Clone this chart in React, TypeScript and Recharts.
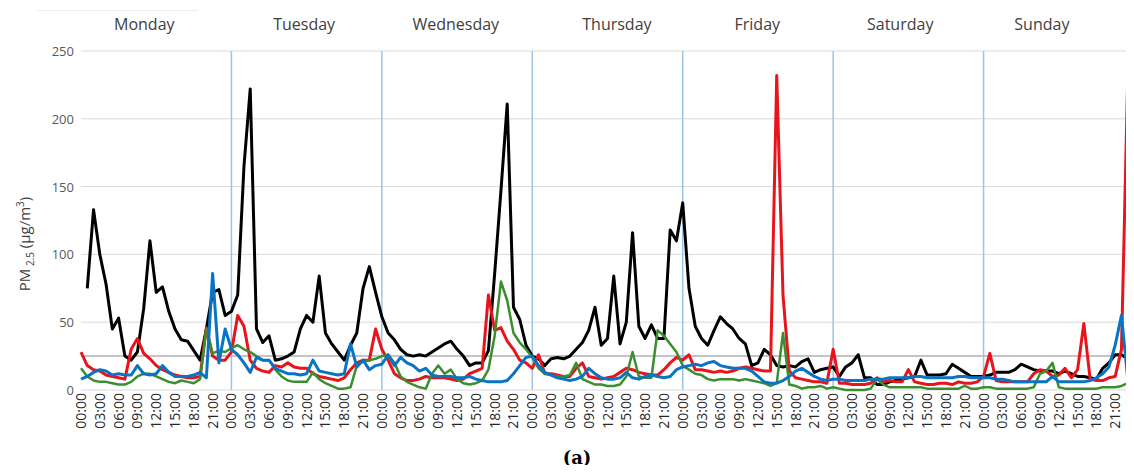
import React from "react";
import { LineChart, Line, XAxis, YAxis, CartesianGrid, ReferenceLine } from "recharts";

// hours since Monday 00:00, one reading per hour
const hours = Array.from({ length: 169 }, (_, i) => i);

const dayNames = ["Monday", "Tuesday", "Wednesday", "Thursday", "Friday", "Saturday", "Sunday"];
const dayLabelHours = [10.1, 35.6, 59.8, 85.5, 107.9, 130.7, 153.3];
const dayBoundaries = [24, 48, 72, 96, 120, 144];
const timeTicks = Array.from({ length: 57 }, (_, i) => i * 3);
const yTicks = [0, 50, 100, 150, 200, 250];
const limit = 25;

const black = [
  null, 75, 133, 100, 78, 45, 53, 25, 22, 28, 60, 110, 72, 76, 58, 45, 37, 36, 29, 22, 45, 72, 74, 55,
  58, 70, 165, 222, 45, 35, 40, 22, 23, 25, 28, 45, 55, 50, 84, 42, 34, 28, 22, 33, 42, 75, 91, 72,
  54, 42, 37, 30, 26, 25, 26, 25, 28, 31, 34, 36, 30, 25, 18, 20, 20, 29, 86, 147, 211, 61, 52, 33,
  25, 23, 18, 23, 24, 23, 25, 30, 35, 44, 61, 33, 38, 84, 34, 50, 116, 47, 38, 48, 38, 38, 118, 110,
  138, 75, 47, 38, 33, 44, 54, 49, 45, 38, 34, 18, 20, 30, 26, 18, 17, 18, 17, 21, 23, 13, 15, 16,
  17, 10, 17, 20, 26, 9, 9, 4, 4, 6, 7, 8, 9, 10, 22, 11, 11, 11, 12, 19, 16, 13, 10, 10,
  10, 11, 13, 13, 13, 15, 19, 17, 15, 14, 14, 14, 12, 14, 12, 10, 10, 9, 8, 16, 20, 26, 26, 23, 22,
];

const red = [
  28, 18, 15, 14, 11, 10, 9, 8, 30, 38, 27, 23, 18, 15, 13, 11, 10, 9, 9, 10, 46, 25, 22, 22,
  28, 55, 47, 22, 16, 14, 13, 18, 17, 20, 17, 16, 16, 12, 10, 9, 8, 7, 9, 15, 20, 22, 22, 45,
  30, 22, 12, 9, 7, 7, 8, 10, 9, 9, 9, 8, 7, 8, 12, 14, 16, 70, 44, 46, 36, 30, 22, 20,
  16, 26, 12, 12, 11, 10, 10, 16, 20, 10, 9, 8, 9, 10, 13, 16, 15, 13, 12, 11, 11, 15, 20, 24,
  22, 26, 15, 15, 14, 13, 14, 13, 14, 16, 17, 16, 15, 14, 14, 232, 70, 14, 9, 8, 7, 6, 6, 5,
  30, 5, 5, 4, 4, 4, 5, 9, 6, 7, 6, 6, 15, 6, 5, 4, 4, 5, 5, 4, 6, 5, 5, 6,
  10, 27, 7, 6, 6, 6, 6, 6, 12, 15, 14, 10, 11, 16, 9, 15, 49, 8, 7, 7, 9, 10, 30, 231, 12,
];

const green = [
  16, 10, 7, 6, 6, 5, 4, 4, 6, 10, 12, 12, 10, 8, 6, 5, 7, 6, 5, 8, 45, 27, 29, 28,
  31, 33, 30, 28, 25, 22, 22, 15, 10, 7, 6, 6, 6, 13, 8, 5, 3, 1, 1, 2, 18, 21, 22, 23,
  25, 26, 20, 10, 6, 4, 2, 1, 12, 18, 12, 15, 8, 5, 4, 5, 7, 15, 40, 80, 66, 42, 35, 30,
  24, 16, 12, 11, 10, 10, 11, 20, 8, 6, 4, 4, 3, 3, 4, 10, 28, 10, 9, 9, 44, 40, 34, 28,
  18, 15, 12, 11, 8, 7, 8, 8, 8, 7, 8, 7, 6, 5, 3, 5, 42, 4, 3, 1, 2, 2, 3, 1,
  2, 1, 0, 0, 0, 0, 1, 8, 4, 2, 2, 2, 2, 2, 2, 1, 1, 1, 1, 1, 1, 3, 1, 1,
  2, 2, 1, 1, 1, 1, 1, 1, 2, 12, 14, 20, 2, 1, 1, 1, 1, 1, 1, 2, 2, 2, 3, 5, 2,
];

const blue = [
  8, 10, 13, 15, 14, 11, 12, 11, 11, 18, 12, 11, 12, 18, 13, 10, 10, 10, 11, 13, 9, 86, 20, 45,
  30, 26, 20, 13, 24, 22, 22, 16, 14, 12, 12, 11, 12, 22, 14, 13, 12, 11, 12, 34, 17, 22, 15, 18,
  19, 26, 18, 24, 20, 18, 14, 16, 11, 10, 10, 10, 9, 9, 10, 8, 7, 6, 6, 6, 7, 12, 18, 24,
  25, 18, 13, 11, 9, 8, 7, 8, 10, 16, 12, 9, 8, 8, 9, 13, 9, 8, 10, 11, 10, 9, 10, 15,
  17, 18, 19, 18, 20, 21, 18, 17, 16, 16, 16, 14, 10, 6, 5, 5, 7, 10, 14, 16, 13, 10, 8, 7,
  8, 8, 7, 7, 7, 7, 8, 8, 8, 9, 9, 9, 9, 10, 10, 9, 9, 9, 9, 9, 10, 10, 9, 9,
  9, 9, 8, 8, 7, 6, 6, 6, 6, 6, 6, 10, 6, 6, 6, 6, 6, 7, 9, 12, 17, 33, 55, 8, 6,
];

const data = hours.map((h, i) => ({ h, black: black[i], red: red[i], green: green[i], blue: blue[i] }));

const fmtHour = (v: number) => `${String(v % 24).padStart(2, "0")}:00`;

function TimeTick(props: any) {
  const { x, payload } = props;
  return (
    <text
      transform={`translate(${x + 5},393) rotate(-90)`}
      textAnchor="end"
      fontSize={14}
      fontFamily="'Open Sans', sans-serif"
      fill="#262626"
    >
      {fmtHour(payload.value)}
    </text>
  );
}

function DayTick(props: any) {
  const { x, payload } = props;
  const idx = dayLabelHours.indexOf(payload.value);
  return (
    <text x={x} y={30} textAnchor="middle" fontSize={16} fontFamily="'Open Sans', sans-serif" fill="#404040">
      {dayNames[idx]}
    </text>
  );
}

function ValueTick(props: any) {
  const { y, payload } = props;
  return (
    <text x={74} y={y + 5} textAnchor="end" fontSize={13} fontFamily="'Open Sans', sans-serif" fill="#595959">
      {payload.value}
    </text>
  );
}

function YTitle() {
  return (
    <text transform="translate(30,244) rotate(-90)" textAnchor="middle" fontFamily="'Open Sans', sans-serif" fontSize={15} fill="#404040">
      PM
      <tspan fontSize={10} dy={4}> 2.5</tspan>
      <tspan dy={-4}> (µg/m</tspan>
      <tspan fontSize={10} dy={-6}>3</tspan>
      <tspan dy={6}>)</tspan>
    </text>
  );
}

export default function App() {
  return (
    <div style={{ margin: -8, width: 1134, height: 473, overflow: "hidden", position: "relative", background: "#fff" }}>
      <div style={{ position: "absolute", left: 37, top: 10, width: 161, height: 1, background: "#ececec" }} />
      <LineChart width={1180} height={473} data={data} margin={{ top: 0, right: 46, bottom: 0, left: 0 }}>
        <CartesianGrid horizontal vertical={false} stroke="#d9d9d9" strokeWidth={1} />
        <XAxis
          xAxisId="top"
          orientation="top"
          dataKey="h"
          type="number"
          domain={[0, 168]}
          ticks={dayLabelHours}
          height={51}
          axisLine={false}
          tickLine={false}
          tick={<DayTick />}
          interval={0}
        />
        <XAxis
          dataKey="h"
          type="number"
          domain={[0, 168]}
          ticks={timeTicks}
          height={83}
          axisLine={false}
          tickLine={false}
          tick={<TimeTick />}
          interval={0}
        />
        <YAxis
          domain={[0, 250]}
          ticks={yTicks}
          width={81}
          axisLine={false}
          tickLine={false}
          tick={<ValueTick />}
          label={<YTitle />}
        />
        <ReferenceLine y={limit} stroke="#c4c4c4" strokeWidth={2} />
        {dayBoundaries.map((d) => (
          <ReferenceLine key={d} x={d} stroke="#9dc3e6" strokeWidth={1.5} />
        ))}
        <Line type="linear" dataKey="black" stroke="#000000" strokeWidth={3} dot={false} isAnimationActive={false} strokeLinejoin="round" />
        <Line type="linear" dataKey="red" stroke="#e8141b" strokeWidth={3} dot={false} isAnimationActive={false} strokeLinejoin="round" />
        <Line type="linear" dataKey="green" stroke="#3b8e2f" strokeWidth={2.5} dot={false} isAnimationActive={false} strokeLinejoin="round" />
        <Line type="linear" dataKey="blue" stroke="#0a74c4" strokeWidth={3} dot={false} isAnimationActive={false} strokeLinejoin="round" />
      </LineChart>
      <div
        style={{
          position: "absolute",
          left: 0,
          width: 1154,
          top: 447,
          textAlign: "center",
          fontFamily: "'DejaVu Serif', serif",
          fontWeight: "bold",
          fontSize: 18,
        }}
      >
        (a)
      </div>
    </div>
  );
}
